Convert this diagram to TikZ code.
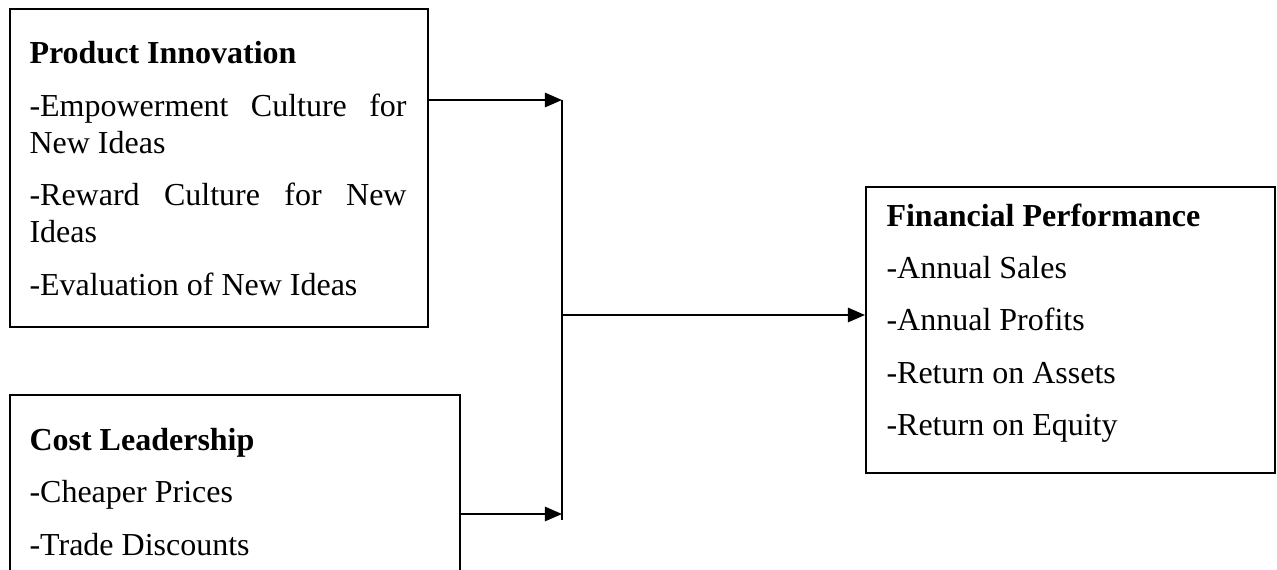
\documentclass[tikz,border=0pt]{standalone}
\usepackage{fontspec}
\setmainfont{Liberation Serif}
\usetikzlibrary{arrows.meta}
\begin{document}
\begin{tikzpicture}[x=0.375pt,y=-0.375pt,
  box/.style={draw, line width=0.75pt, inner sep=0pt, anchor=north west},
  txt/.style={anchor=base west, inner sep=0pt, font=\fontsize{12}{13.8}\selectfont},
  ttl/.style={anchor=base west, inner sep=0pt, font=\fontsize{12}{13.8}\selectfont\bfseries},
  conn/.style={line width=0.6pt},
  arr/.style={conn, -{Triangle[length=6.4pt,width=5.4pt]}}]
\path[use as bounding box, clip] (0,0) rectangle (1277,569);
\fill[white] (0,0) rectangle (1277,569);
% Product Innovation
\node[box, minimum width=156.75pt, minimum height=119.25pt] (pi) at (9,8) {};
\node[ttl] (pit) at (29,63) {Product Innovation};
\node[txt] (pi1) at (29,116) {\makebox[141.4pt][s]{-Empowerment Culture for}};
\node[txt] (pi1b) at (29,153) {New Ideas};
\node[txt] (pi2) at (29,205) {\makebox[141.4pt][s]{-Reward Culture for New}};
\node[txt] (pi2b) at (29,242) {Ideas};
\node[txt] (pi3) at (29,295) {-Evaluation of New Ideas};
% Cost Leadership
\node[box, minimum width=168.75pt, minimum height=90pt] (cl) at (9,394) {};
\node[ttl] (clt) at (29,450) {Cost Leadership};
\node[txt] (cl1) at (29,502) {-Cheaper Prices};
\node[txt] (cl2) at (29,555) {-Trade Discounts};
% Financial Performance
\node[box, minimum width=153.4pt, minimum height=107.25pt] (fp) at (865,186) {};
\node[ttl] (fpt) at (886,226) {Financial Performance};
\node[txt] (fp1) at (886,278) {-Annual Sales};
\node[txt] (fp2) at (886,330) {-Annual Profits};
\node[txt] (fp3) at (886,383) {-Return on Assets};
\node[txt] (fp4) at (886,435) {-Return on Equity};
% connectors
\coordinate (j1) at (562,100);
\coordinate (j2) at (562,514);
\coordinate (jend) at (562,520);
\coordinate (jm) at (562,315);
\draw[arr] (pi.east |- j1) -- (j1);
\draw[arr] (cl.east |- j2) -- (j2);
\draw[conn] (j1) -- (jend);
\draw[arr] (jm) -- (jm -| fp.west);
\end{tikzpicture}
\end{document}
